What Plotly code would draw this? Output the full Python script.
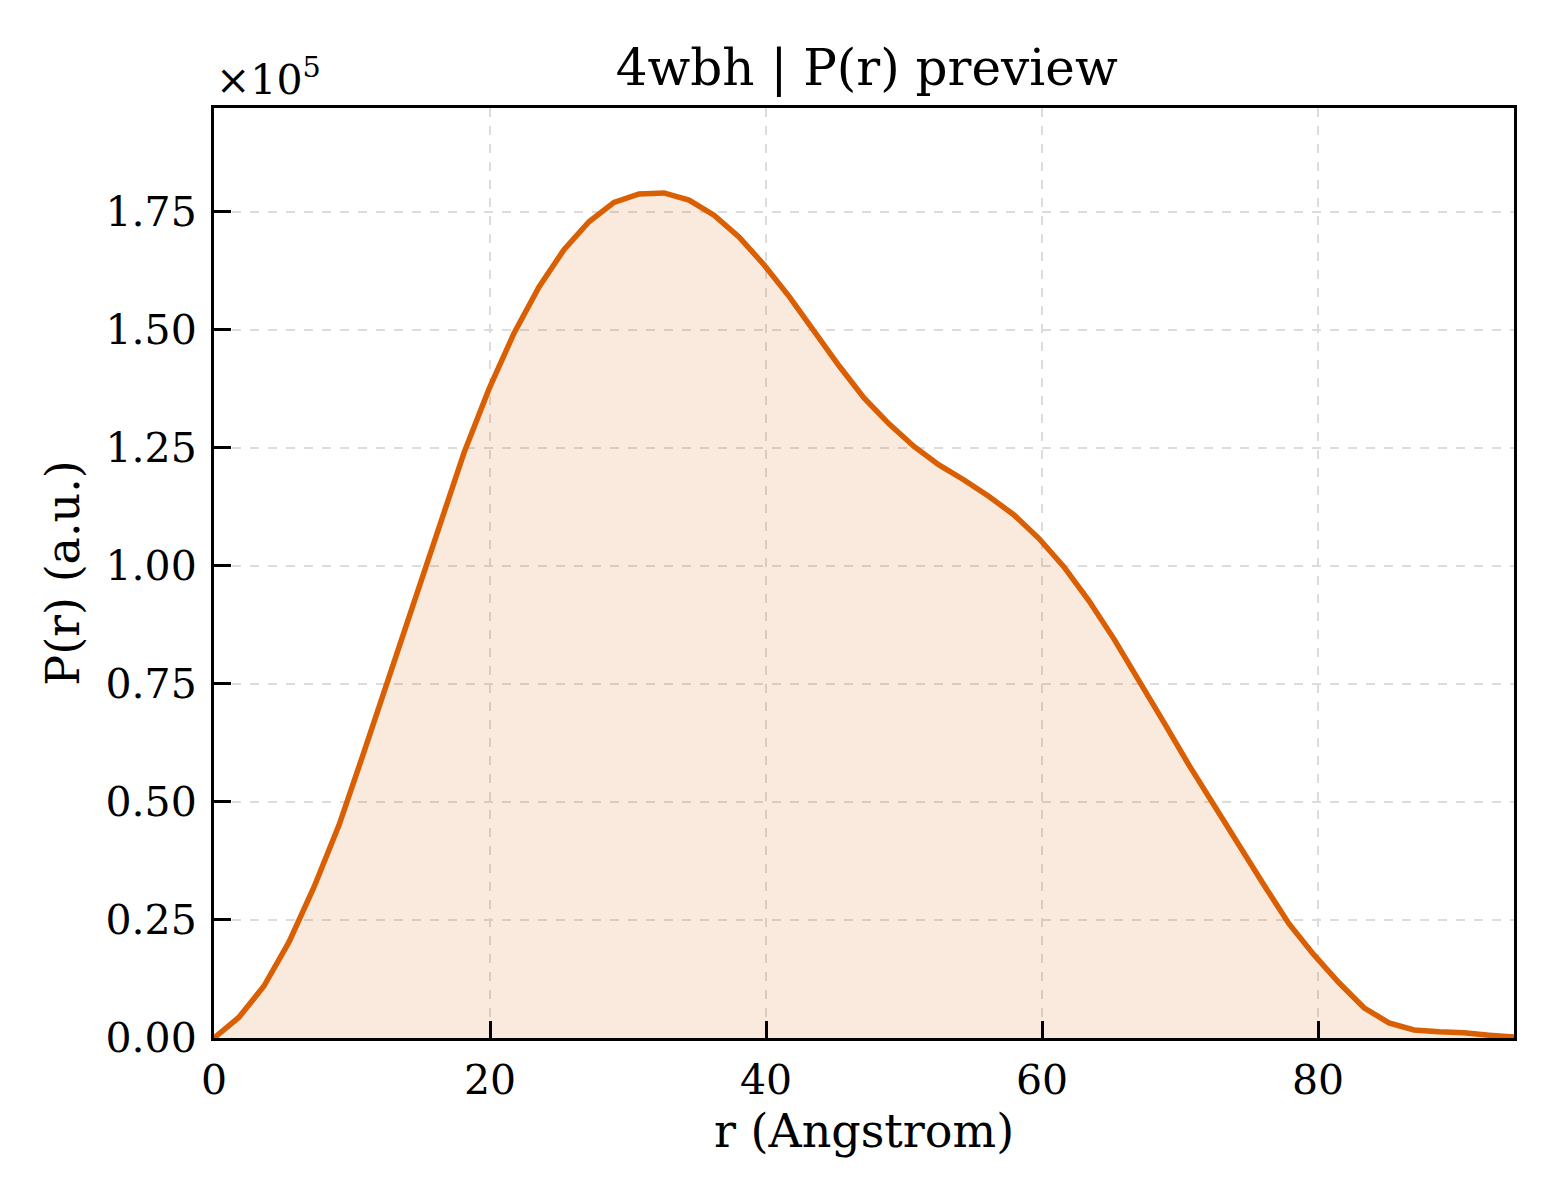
import plotly.graph_objects as go

# P(r) values (units of 1e5)
r = [0.0, 1.81, 3.62, 5.43, 7.25, 9.06, 10.87, 12.68, 14.49, 16.30,
     18.12, 19.93, 21.74, 23.55, 25.36, 27.17, 28.98, 30.80, 32.61, 34.42,
     36.23, 38.04, 39.85, 41.67, 43.48, 45.29, 47.10, 48.91, 50.72, 52.53,
     54.35, 56.16, 57.97, 59.78, 61.59, 63.40, 65.22, 67.03, 68.84, 70.65,
     72.46, 74.27, 76.08, 77.89, 79.71, 81.52, 83.33, 85.14, 86.95, 88.77,
     90.58, 92.39, 94.20]
pr = [0.000, 0.044, 0.110, 0.203, 0.320, 0.451, 0.606, 0.765, 0.928, 1.087,
      1.240, 1.375, 1.493, 1.591, 1.670, 1.729, 1.770, 1.788, 1.790, 1.775,
      1.743, 1.697, 1.638, 1.571, 1.497, 1.424, 1.356, 1.301, 1.253, 1.214,
      1.182, 1.147, 1.108, 1.058, 0.998, 0.926, 0.845, 0.758, 0.668, 0.578,
      0.492, 0.408, 0.324, 0.242, 0.176, 0.117, 0.064, 0.032, 0.017, 0.013,
      0.011, 0.006, 0.002]

xticks = [0, 20, 40, 60, 80]
yticks = [0.0, 0.25, 0.5, 0.75, 1.0, 1.25, 1.5, 1.75]

font = "DejaVu Serif"
line_col = "#d95f02"

fig = go.Figure()
fig.add_trace(go.Scatter(x=r, y=pr, mode="lines", fill="tozeroy",
                         fillcolor="rgba(217,95,2,0.13)",
                         line=dict(color=line_col, width=5.5)))

axis_common = dict(showline=True, linecolor="black", linewidth=3, mirror=True,
                   ticks="inside", ticklen=17, tickwidth=3, tickcolor="black",
                   showgrid=True, gridcolor="#dcdcdc", griddash="dash", gridwidth=1.5,
                   zeroline=False, tickfont=dict(family=font, size=41, color="black"))

fig.update_xaxes(range=[0, 94.2], tickvals=xticks, ticklabelstandoff=4,
                 title=dict(text="r (Angstrom)", font=dict(family=font, size=46, color="black"),
                            standoff=12),
                 **axis_common)
fig.update_yaxes(range=[0, 1.97], tickvals=yticks, tickformat=".2f", ticklabelstandoff=6,
                 title=dict(text="P(r) (a.u.)", font=dict(family=font, size=46, color="black"),
                            standoff=12),
                 **axis_common)

fig.add_annotation(text="×10<sup>5</sup>", xref="paper", yref="paper", x=0, y=1.0,
                   xanchor="left", yanchor="bottom", yshift=2, showarrow=False,
                   font=dict(family=font, size=41, color="black"))

# the page adds an 8px body margin, so the figure is drawn 8px smaller
fig.update_layout(width=1552, height=1192, showlegend=False,
                  plot_bgcolor="white", paper_bgcolor="white",
                  margin=dict(l=206, r=46, t=100, b=162),
                  title=dict(text="4wbh | P(r) preview", x=0.5533, xanchor="center",
                             y=0.9497, yanchor="middle",
                             font=dict(family=font, size=50, color="black")))

fig.write_html("out.html")
